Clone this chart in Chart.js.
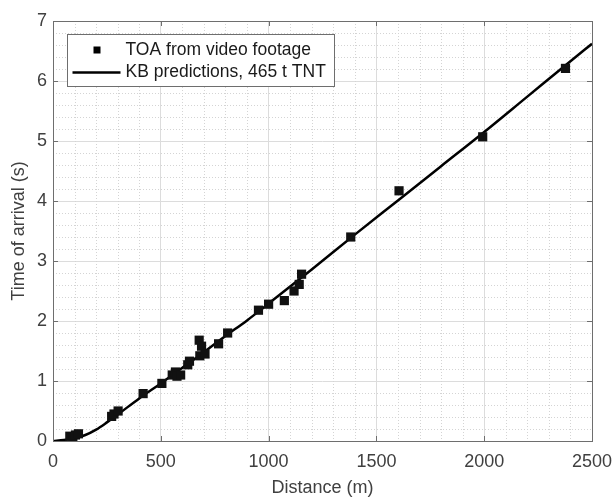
<!DOCTYPE html>
<html>
<head>
<meta charset="utf-8">
<script src="https://cdn.jsdelivr.net/npm/chart.js@4.4.0/dist/chart.umd.min.js"></script>
<style>
  html, body { margin: 0; padding: 0; background: #fff; }
</style>
</head>
<body>
<canvas id="grafico" width="614" height="500"></canvas>
<script>
// --- datos ---
const distVideo = [78, 92, 104, 118, 272, 283, 302, 418, 505, 553, 568, 575, 592, 625, 633, 678, 689, 681, 705, 768, 810, 953, 1000, 1073, 1118, 1142, 1153, 1381, 1605, 1993, 2377];
const toaVideo  = [0.08, 0.06, 0.10, 0.12, 0.41, 0.45, 0.50, 0.79, 0.96, 1.10, 1.15, 1.08, 1.10, 1.27, 1.33, 1.68, 1.58, 1.42, 1.45, 1.62, 1.80, 2.18, 2.28, 2.34, 2.50, 2.61, 2.78, 3.40, 4.17, 5.07, 6.21];

const distKB = [0, 50, 100, 150, 200, 250, 300, 400, 500, 600, 700, 800, 900, 1000, 1200, 1400, 1600, 1800, 2000, 2200, 2400, 2500];
const toaKB  = [0, 0.015, 0.045, 0.10, 0.19, 0.31, 0.44, 0.71, 0.96, 1.22, 1.48, 1.75, 2.01, 2.29, 2.86, 3.44, 4.01, 4.58, 5.15, 5.74, 6.33, 6.62];

const ticksX = [0, 500, 1000, 1500, 2000, 2500];
const ticksY = [0, 1, 2, 3, 4, 5, 6, 7];
const menorX = 100;   // paso de la grilla menor
const menorY = 0.2;

const etiquetas = ['TOA from video footage', 'KB predictions, 465 t TNT'];

const colorTexto = '#404040';
const colorBorde = '#6e6e6e';
const fuente = 'Arial, "Liberation Sans", Helvetica, sans-serif';

// grilla menor punteada + marco con ticks hacia adentro
const grillaMenor = {
  id: 'grillaMenor',
  beforeDatasetsDraw(chart) {
    const { ctx, chartArea: a, scales: { x, y } } = chart;
    ctx.save();
    ctx.strokeStyle = '#d4d4d4';
    ctx.lineWidth = 1;
    ctx.setLineDash([1, 2]);
    for (let v = menorX; v < x.max; v += menorX) {
      if (v % 500 === 0) continue;
      const px = Math.round(x.getPixelForValue(v)) + 0.5;
      ctx.beginPath(); ctx.moveTo(px, a.top); ctx.lineTo(px, a.bottom); ctx.stroke();
    }
    for (let i = 1; i * menorY < y.max; i++) {
      if (i % 5 === 0) continue;
      const py = Math.round(y.getPixelForValue(i * menorY)) + 0.5;
      ctx.beginPath(); ctx.moveTo(a.left, py); ctx.lineTo(a.right, py); ctx.stroke();
    }
    ctx.restore();
  },
  afterDatasetsDraw(chart) {
    const { ctx, chartArea: a, scales: { x, y } } = chart;
    ctx.save();
    ctx.strokeStyle = colorBorde;
    ctx.lineWidth = 1;
    ctx.strokeRect(Math.round(a.left) + 0.5, Math.round(a.top) + 0.5, Math.round(a.right - a.left), Math.round(a.bottom - a.top));
    const largo = 5;
    ticksX.forEach(v => {
      const px = Math.round(x.getPixelForValue(v)) + 0.5;
      ctx.beginPath();
      ctx.moveTo(px, a.bottom); ctx.lineTo(px, a.bottom - largo);
      ctx.moveTo(px, a.top); ctx.lineTo(px, a.top + largo);
      ctx.stroke();
    });
    ticksY.forEach(v => {
      const py = Math.round(y.getPixelForValue(v)) + 0.5;
      ctx.beginPath();
      ctx.moveTo(a.left, py); ctx.lineTo(a.left + largo, py);
      ctx.moveTo(a.right, py); ctx.lineTo(a.right - largo, py);
      ctx.stroke();
    });
    ctx.restore();
  },
  afterDraw(chart) {
    // leyenda dentro del area, arriba a la izquierda
    const { ctx, chartArea: a } = chart;
    const bx = a.left + 14.5, by = a.top + 13.5, bw = 267, bh = 52;
    ctx.save();
    ctx.fillStyle = '#fff';
    ctx.fillRect(bx, by, bw, bh);
    ctx.strokeStyle = colorBorde;
    ctx.lineWidth = 1;
    ctx.strokeRect(bx, by, bw, bh);
    ctx.fillStyle = '#000';
    ctx.fillRect(bx + 26, by + 12, 7, 7);
    ctx.strokeStyle = '#000';
    ctx.lineWidth = 2.5;
    ctx.beginPath(); ctx.moveTo(bx + 5, by + 38); ctx.lineTo(bx + 53, by + 38); ctx.stroke();
    ctx.fillStyle = '#1a1a1a';
    ctx.font = '17.5px ' + fuente;
    ctx.textBaseline = 'middle';
    ctx.fillText(etiquetas[0], bx + 58, by + 16);
    ctx.fillText(etiquetas[1], bx + 58, by + 38);
    ctx.restore();
  }
};

new Chart(document.getElementById('grafico').getContext('2d'), {
  type: 'scatter',
  data: {
    datasets: [
      {
        label: etiquetas[0],
        data: distVideo.map((d, i) => ({ x: d, y: toaVideo[i] })),
        pointStyle: 'rect',
        pointRadius: 6.5,
        backgroundColor: '#111',
        borderColor: '#111',
        borderWidth: 0,
        order: 1
      },
      {
        label: etiquetas[1],
        type: 'line',
        data: distKB.map((d, i) => ({ x: d, y: toaKB[i] })),
        showLine: true,
        pointRadius: 0,
        borderColor: '#000',
        borderWidth: 2.5,
        cubicInterpolationMode: 'monotone',
        fill: false,
        order: 2
      }
    ]
  },
  options: {
    responsive: false,
    animation: false,
    layout: { padding: { top: 21, right: 22, left: 0, bottom: 0 } },
    plugins: { legend: { display: false }, tooltip: { enabled: false } },
    scales: {
      x: {
        type: 'linear',
        min: 0, max: 2500,
        afterBuildTicks: s => { s.ticks = ticksX.map(v => ({ value: v })); },
        afterFit: s => { s.height = 59; s.paddingLeft = 0; s.paddingRight = 0; },
        ticks: { color: colorTexto, font: { family: fuente, size: 18 }, padding: 10, maxRotation: 0, callback: v => String(v) },
        grid: { color: '#dcdcdc', drawTicks: false },
        border: { display: false },
        title: { display: true, text: 'Distance (m)', color: colorTexto, font: { family: fuente, size: 18 }, padding: { top: 0, bottom: 1 } }
      },
      y: {
        type: 'linear',
        min: 0, max: 7,
        afterBuildTicks: s => { s.ticks = ticksY.map(v => ({ value: v })); },
        afterFit: s => { s.width = 53; s.paddingTop = 0; s.paddingBottom = 0; },
        ticks: { color: colorTexto, font: { family: fuente, size: 18 }, padding: 6, callback: v => String(v) },
        grid: { color: '#dcdcdc', drawTicks: false },
        border: { display: false },
        title: { display: true, text: 'Time of arrival (s)', color: colorTexto, font: { family: fuente, size: 18 }, padding: { top: 8, bottom: 0 } }
      }
    }
  },
  plugins: [grillaMenor]
});
</script>
</body>
</html>
